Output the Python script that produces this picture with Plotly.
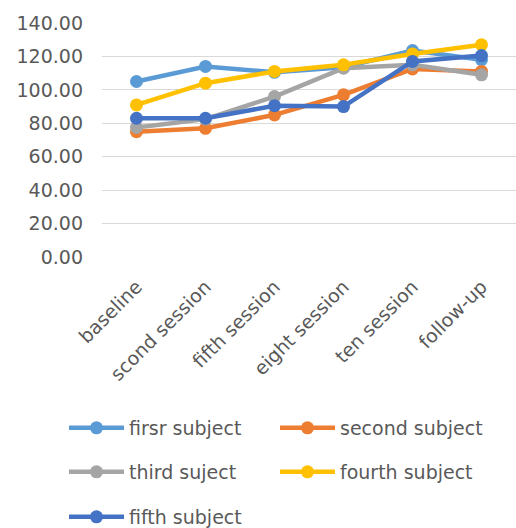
import plotly.graph_objects as go

sessions = ["baseline", "scond session", "fifth session", "eight session", "ten session", "follow-up"]

first_subject = [105.0, 114.0, 110.5, 113.5, 123.5, 118.0]
second_subject = [75.0, 77.0, 85.0, 97.0, 112.5, 111.0]
third_subject = [77.5, 82.5, 96.0, 113.0, 115.0, 109.0]
fourth_subject = [91.0, 104.0, 111.0, 115.0, 121.5, 127.0]
fifth_subject = [83.0, 83.0, 90.5, 90.0, 117.0, 120.5]

names = ["firsr subject", "second subject", "third suject", "fourth subject", "fifth subject"]
series = [first_subject, second_subject, third_subject, fourth_subject, fifth_subject]
colors = ["#5B9BD5", "#ED7D31", "#A5A5A5", "#FFC000", "#4472C4"]

y_ticks = [0, 20, 40, 60, 80, 100, 120, 140]

FONT = "DejaVu Sans"
TEXT = "#595959"

# legend grid: two columns, three rows (pixel positions in the page)
legend_cols = [64, 275, 64, 275, 64]
legend_rows = [428, 428, 472, 472, 517]
legend_keys = ["legend", "legend2", "legend3", "legend4", "legend5"]

fig = go.Figure()
for name, vals, col, lg in zip(names, series, colors, legend_keys):
    fig.add_trace(go.Scatter(
        x=sessions, y=vals, name=name, mode="lines+markers",
        line=dict(color=col, width=4.5),
        marker=dict(color=col, size=13),
        legend=lg,
    ))

W, H = 516, 528
legends = {}
for key, cx, cy in zip(legend_keys, legend_cols, legend_rows):
    legends[key] = dict(
        x=cx / W, y=1 - cy / H, xref="container", yref="container",
        xanchor="left", yanchor="middle", orientation="h",
        itemwidth=55,
        font=dict(family=FONT, size=19, color=TEXT),
        bgcolor="rgba(0,0,0,0)",
    )

fig.update_layout(
    width=W, height=H,
    margin=dict(l=102, r=0, t=23, b=271),
    paper_bgcolor="white", plot_bgcolor="white",
    font=dict(family=FONT, size=19, color=TEXT),
    showlegend=True,
    xaxis=dict(
        type="category", range=[-0.5, 5.5], tickangle=-45,
        showgrid=False, zeroline=False, showline=False, ticks="",
        tickfont=dict(family=FONT, size=19, color=TEXT),
        ticklabelstandoff=14,
    ),
    yaxis=dict(
        range=[0, 140], tickvals=y_ticks, tickformat=".2f",
        showgrid=True, gridcolor="#D9D9D9", gridwidth=1,
        zeroline=False, showline=False, ticks="",
        tickfont=dict(family=FONT, size=19, color=TEXT),
        ticklabelstandoff=18,
    ),
    **legends,
)

fig.write_html("out.html")
